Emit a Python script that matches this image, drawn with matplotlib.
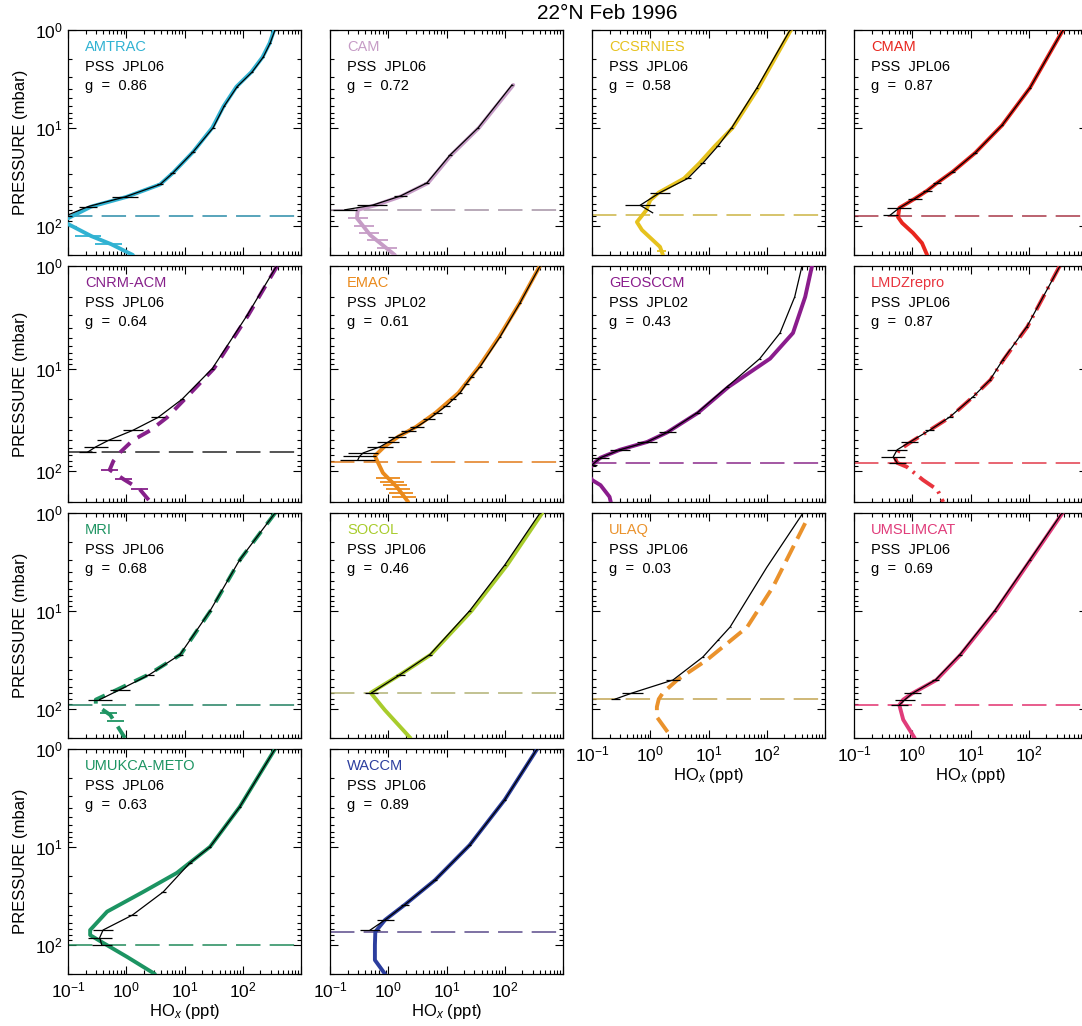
import numpy as np
import matplotlib
matplotlib.use("Agg")
import matplotlib.pyplot as plt
from matplotlib.ticker import LogLocator, NullFormatter, FixedLocator, FixedFormatter

plt.rcParams['font.family'] = ['Liberation Sans', 'DejaVu Sans']
plt.rcParams['mathtext.fontset'] = 'custom'
plt.rcParams['mathtext.rm'] = 'Liberation Sans'
plt.rcParams['mathtext.it'] = 'Liberation Sans:italic'

# ---------------------------------------------------------------- panel metadata
models = ["AMTRAC", "CAM", "CCSRNIES", "CMAM",
          "CNRM-ACM", "EMAC", "GEOSCCM", "LMDZrepro",
          "MRI", "SOCOL", "ULAQ", "UMSLIMCAT",
          "UMUKCA-METO", "WACCM"]
pss_labels = ["PSS  JPL06", "PSS  JPL06", "PSS  JPL06", "PSS  JPL06",
              "PSS  JPL06", "PSS  JPL02", "PSS  JPL02", "PSS  JPL06",
              "PSS  JPL06", "PSS  JPL06", "PSS  JPL06", "PSS  JPL06",
              "PSS  JPL06", "PSS  JPL06"]
g_values = [0.86, 0.72, 0.58, 0.87, 0.64, 0.61, 0.43, 0.87,
            0.68, 0.46, 0.03, 0.69, 0.63, 0.89]
model_colors = ["#30b2d2", "#c69cc6", "#e6c21e", "#e8261e",
                "#86208a", "#ea8a1c", "#8a1c8c", "#e8343e",
                "#1e9462", "#a8cc2c", "#ea922c", "#e03c7a",
                "#1c9462", "#2c3e9e"]
trop_colors = ["#2a8ca8", "#a492a4", "#ccb444", "#a83848",
               "#262626", "#e27a1a", "#8a2a8a", "#e23a4a",
               "#208060", "#b2b274", "#c2a452", "#e2306e",
               "#208a5a", "#5a4a8a"]
model_styles = ["solid", "solid", "solid", "solid",
                (0, (3.6, 2.4)), "solid", "solid", (0, (4.5, 1.6, 0.6, 1.6)),
                (0, (3.6, 2.4)), "solid", (0, (4.5, 2.0)), "solid",
                "solid", "solid"]
trop_p = [80, 69, 78, 80, 65, 81, 83, 83, 92, 69, 80, 92, 101, 74]

# ---------------------------------------------------------------- profiles
# PSS HOx (black): pressure [mbar], HOx [ppt], multiplicative error factor
# model HOx (colour): pressure, HOx; model variability bars: pressure, centre, factor
amtrac_obs_p = [1, 1.36, 1.9, 2.7, 3.8, 6, 10, 17.7, 29, 38, 51, 64, 80]
amtrac_obs_x = [358, 296, 224, 144, 80, 48, 31, 14, 6.3, 3.8, 0.95, 0.22, 0.09]
amtrac_obs_f = [1.04, 1.04, 1.04, 1.04, 1.05, 1.05, 1.06, 1.08, 1.1, 1.12, 1.7, 1.45, 1.3]
amtrac_mod_p = [1, 1.36, 1.9, 2.7, 3.8, 6, 10, 17.7, 29, 38, 51, 64, 90, 128, 155, 200]
amtrac_mod_x = [345, 290, 218, 140, 78, 47, 30, 14, 6.3, 3.8, 1.0, 0.25, 0.08, 0.25,
                0.55, 1.3]
amtrac_err_p = [128, 155]
amtrac_err_x = [0.22, 0.5]
amtrac_err_f = [1.7, 1.7]

cam_obs_p = [3.65, 10, 19, 36.7, 50, 62, 69]
cam_obs_x = [133, 35, 11.5, 4.6, 1.6, 0.53, 0.18]
cam_obs_f = [1.04, 1.05, 1.08, 1.1, 1.3, 1.8, 1.6]
cam_mod_p = [3.65, 10, 19, 36.7, 50, 62, 69, 84, 125, 200]
cam_mod_x = [140, 36, 12, 4.8, 1.7, 0.6, 0.3, 0.29, 0.49, 1.3]
cam_err_p = [84, 100, 118, 140, 170]
cam_err_x = [0.3, 0.38, 0.47, 0.65, 0.95]
cam_err_f = [1.5, 1.5, 1.5, 1.5, 1.5]

ccsr_obs_p = [1, 3.9, 10, 15.3, 23, 33, 46, 62, 74]
ccsr_obs_x = [251, 68, 25, 14.6, 8.0, 4.4, 1.47, 0.67, 1.1]
ccsr_obs_f = [1.03, 1.04, 1.05, 1.08, 1.1, 1.12, 1.5, 1.8, 1.0]
ccsr_mod_p = [1, 3.9, 10, 15.3, 23, 33, 46, 55, 70, 92, 111, 165, 200]
ccsr_mod_x = [260, 72, 26, 13, 7, 3.8, 1.4, 1.0, 0.85, 0.59, 0.72, 1.47, 1.65]
ccsr_err_p = [180]
ccsr_err_x = [1.55]
ccsr_err_f = [1.2]

cmam_obs_p = [1, 3.9, 9.4, 18.1, 28, 36.7, 44, 53, 66, 78]
cmam_obs_x = [387, 105, 35, 12, 5.0, 2.66, 1.8, 1.11, 0.6, 0.42]
cmam_obs_f = [1.03, 1.03, 1.05, 1.08, 1.1, 1.15, 1.2, 1.3, 1.6, 1.35]
cmam_mod_p = [1, 3.9, 9.4, 18.1, 28, 36.7, 44, 53, 66, 82, 94, 119, 151, 200]
cmam_mod_x = [387, 105, 35, 12, 5.0, 2.66, 1.8, 1.11, 0.6, 0.57, 0.67, 1.03, 1.47, 1.8]
cmam_err_p = []
cmam_err_x = []
cmam_err_f = []

cnrm_obs_p = [1, 3, 10, 20, 30, 40, 50, 58, 65]
cnrm_obs_x = [380, 120, 30, 9, 3.5, 1.3, 0.5, 0.3, 0.22]
cnrm_obs_f = [1.03, 1.04, 1.05, 1.08, 1.3, 1.5, 1.6, 1.6, 1.4]
cnrm_mod_p = [1, 3, 10, 20, 30, 40, 50, 65, 80, 97, 120, 150, 200]
cnrm_mod_x = [390, 125, 32, 10, 5, 2.6, 1.3, 0.8, 0.6, 0.52, 0.9, 1.7, 2.6]
cnrm_err_p = [97, 120, 150]
cnrm_err_x = [0.52, 0.9, 1.7]
cnrm_err_f = [1.4, 1.4, 1.4]

emac_obs_p = [1, 2.3, 4.9, 9.6, 12, 14, 17.3, 20, 23, 27, 31, 37, 41, 46,
              52, 58, 66.5, 72, 78]
emac_obs_x = [403, 182, 83, 37.6, 27, 22, 17, 13, 10, 6.9, 5, 3.1, 2.2, 1.41,
              1.0, 0.72, 0.37, 0.32, 0.3]
emac_obs_f = [1.03, 1.04, 1.05, 1.07, 1.08, 1.09, 1.1, 1.12, 1.15, 1.2, 1.25,
              1.3, 1.35, 1.45, 1.55, 1.7, 1.8, 1.9, 2.0]
emac_mod_p = [1, 2.3, 4.9, 9.6, 17.3, 27, 37, 46, 58, 71, 83, 104, 143, 200]
emac_mod_x = [400, 180, 80, 36, 16, 6.5, 3.0, 1.5, 0.85, 0.59, 0.67, 0.81, 1.41, 2.2]
emac_err_p = [116, 127, 138, 148, 163, 178]
emac_err_x = [1.0, 1.15, 1.3, 1.45, 1.65, 1.85]
emac_err_f = [1.6, 1.6, 1.6, 1.6, 1.6, 1.6]

geos_obs_p = [1, 2, 4.5, 8, 15.1, 27, 42, 52, 62, 74, 87]
geos_obs_x = [403, 302, 169, 76, 20.8, 6.4, 1.94, 0.88, 0.3, 0.14, 0.1]
geos_obs_f = [1.02, 1.02, 1.03, 1.04, 1.06, 1.1, 1.4, 1.5, 1.5, 1.4, 1.2]
geos_mod_p = [1, 2, 4.5, 8, 15.1, 27, 42, 52, 62, 74, 87, 105, 122, 137, 178, 200]
geos_mod_x = [598, 457, 282, 114, 22, 6.6, 1.94, 0.88, 0.3, 0.14, 0.1, 0.085, 0.1,
              0.14, 0.2, 0.21]
geos_err_p = []
geos_err_x = []
geos_err_f = []

lmdz_obs_p = [1, 3.9, 8.2, 12.9, 18.9, 29.7, 39.8, 52, 62, 73, 83]
lmdz_obs_x = [343, 93, 36, 21.6, 11, 4.4, 2.0, 0.91, 0.55, 0.47, 0.55]
lmdz_obs_f = [1.03, 1.03, 1.05, 1.06, 1.08, 1.12, 1.2, 1.4, 1.5, 1.6, 1.4]
lmdz_mod_p = [1, 3.9, 8.2, 12.9, 18.9, 29.7, 39.8, 52, 62, 73, 83, 91, 122, 152, 200]
lmdz_mod_x = [340, 95, 37, 22, 11, 4.5, 2.0, 0.95, 0.6, 0.5, 0.55, 0.81, 1.53, 2.7, 3.4]
lmdz_err_p = []
lmdz_err_x = []
lmdz_err_f = []

mri_obs_p = [1, 3, 10, 28, 45, 64, 81]
mri_obs_x = [358, 89, 27.5, 8.4, 2.5, 0.78, 0.35]
mri_obs_f = [1.03, 1.04, 1.05, 1.1, 1.2, 1.5, 1.6]
mri_mod_p = [1, 3, 10, 28, 45, 64, 81, 92, 116, 150, 200]
mri_mod_x = [360, 90, 28, 8.6, 2.4, 0.7, 0.3, 0.3, 0.53, 0.7, 0.95]
mri_err_p = [110, 135]
mri_err_x = [0.5, 0.65]
mri_err_f = [1.4, 1.4]

socol_obs_p = [1, 3.4, 10, 28, 45, 69]
socol_obs_x = [403, 100, 25, 5.2, 1.6, 0.52]
socol_obs_f = [1.03, 1.04, 1.05, 1.1, 1.2, 1.3]
socol_mod_p = [1, 3.4, 10, 28, 45, 69, 104, 200]
socol_mod_x = [440, 110, 27, 5.4, 1.6, 0.5, 0.88, 2.4]
socol_err_p = []
socol_err_x = []
socol_err_f = []

ulaq_obs_p = [1, 3.6, 14.7, 20, 29.7, 51, 69, 80]
ulaq_obs_x = [419, 100, 23.4, 14.6, 8.0, 2.46, 0.5, 0.25]
ulaq_obs_f = [1.0, 1.0, 1.02, 1.05, 1.05, 1.3, 1.5, 1.2]
ulaq_mod_p = [1.27, 5.7, 14.7, 31.8, 51, 69, 80, 96, 122, 200]
ulaq_mod_x = [457, 128, 46, 9.4, 2.9, 1.65, 1.4, 1.3, 1.3, 2.36]
ulaq_err_p = []
ulaq_err_x = []
ulaq_err_f = []

umslim_obs_p = [1, 3, 10, 28, 51, 70, 81, 92]
umslim_obs_x = [372, 105, 26, 6.6, 2.5, 1.0, 0.75, 0.6]
umslim_obs_f = [1.03, 1.04, 1.05, 1.08, 1.15, 1.4, 1.5, 1.4]
umslim_mod_p = [1, 3, 10, 28, 51, 70, 81, 92, 130, 200]
umslim_mod_x = [380, 108, 27, 6.8, 2.6, 1.0, 0.7, 0.6, 0.7, 1.1]
umslim_err_p = []
umslim_err_x = []
umslim_err_f = []

umukca_obs_p = [1, 3.9, 10, 14.6, 29, 50, 71, 85, 101]
umukca_obs_x = [358, 89, 27.5, 12.4, 4.3, 1.27, 0.4, 0.35, 0.38]
umukca_obs_f = [1.03, 1.04, 1.05, 1.08, 1.1, 1.2, 1.5, 1.6, 1.5]
umukca_mod_p = [1, 3.9, 10, 18.5, 29, 46, 71, 80, 96, 134, 200]
umukca_mod_x = [358, 89, 27.5, 7.4, 1.94, 0.47, 0.24, 0.24, 0.4, 1.04, 3.1]
umukca_err_p = []
umukca_err_x = []
umukca_err_f = []

waccm_obs_p = [1, 3.3, 9.6, 22, 39, 56, 71]
waccm_obs_x = [358, 100, 25, 6.3, 1.94, 0.88, 0.49]
waccm_obs_f = [1.03, 1.04, 1.05, 1.08, 1.15, 1.4, 1.5]
waccm_mod_p = [1, 3.3, 9.6, 22, 39, 56, 74, 101, 144, 200]
waccm_mod_x = [360, 100, 25, 6.3, 1.94, 0.88, 0.6, 0.59, 0.59, 0.88]
waccm_err_p = []
waccm_err_x = []
waccm_err_f = []

profiles = [
    (amtrac_obs_p, amtrac_obs_x, amtrac_obs_f, amtrac_mod_p, amtrac_mod_x, amtrac_err_p, amtrac_err_x, amtrac_err_f),
    (cam_obs_p, cam_obs_x, cam_obs_f, cam_mod_p, cam_mod_x, cam_err_p, cam_err_x, cam_err_f),
    (ccsr_obs_p, ccsr_obs_x, ccsr_obs_f, ccsr_mod_p, ccsr_mod_x, ccsr_err_p, ccsr_err_x, ccsr_err_f),
    (cmam_obs_p, cmam_obs_x, cmam_obs_f, cmam_mod_p, cmam_mod_x, cmam_err_p, cmam_err_x, cmam_err_f),
    (cnrm_obs_p, cnrm_obs_x, cnrm_obs_f, cnrm_mod_p, cnrm_mod_x, cnrm_err_p, cnrm_err_x, cnrm_err_f),
    (emac_obs_p, emac_obs_x, emac_obs_f, emac_mod_p, emac_mod_x, emac_err_p, emac_err_x, emac_err_f),
    (geos_obs_p, geos_obs_x, geos_obs_f, geos_mod_p, geos_mod_x, geos_err_p, geos_err_x, geos_err_f),
    (lmdz_obs_p, lmdz_obs_x, lmdz_obs_f, lmdz_mod_p, lmdz_mod_x, lmdz_err_p, lmdz_err_x, lmdz_err_f),
    (mri_obs_p, mri_obs_x, mri_obs_f, mri_mod_p, mri_mod_x, mri_err_p, mri_err_x, mri_err_f),
    (socol_obs_p, socol_obs_x, socol_obs_f, socol_mod_p, socol_mod_x, socol_err_p, socol_err_x, socol_err_f),
    (ulaq_obs_p, ulaq_obs_x, ulaq_obs_f, ulaq_mod_p, ulaq_mod_x, ulaq_err_p, ulaq_err_x, ulaq_err_f),
    (umslim_obs_p, umslim_obs_x, umslim_obs_f, umslim_mod_p, umslim_mod_x, umslim_err_p, umslim_err_x, umslim_err_f),
    (umukca_obs_p, umukca_obs_x, umukca_obs_f, umukca_mod_p, umukca_mod_x, umukca_err_p, umukca_err_x, umukca_err_f),
    (waccm_obs_p, waccm_obs_x, waccm_obs_f, waccm_mod_p, waccm_mod_x, waccm_err_p, waccm_err_x, waccm_err_f),
]

x_ticks = [0.1, 1, 10, 100, 1000]
x_tick_labels = ["$10^{-1}$", "$10^{0}$", "$10^{1}$", "$10^{2}$", ""]
y_ticks = [1, 10, 100]
y_tick_labels = ["$10^{0}$", "$10^{1}$", "$10^{2}$"]

# ---------------------------------------------------------------- layout (pixels)
FIG_W, FIG_H = 1082, 1026
col_left = [68, 330, 592, 854]
panel_w = 233
row_top = [30, 266, 513, 749]
row_h = [225, 236, 225, 225]

fig = plt.figure(figsize=(FIG_W / 100, FIG_H / 100), dpi=100)

for i, name in enumerate(models):
    r, c = divmod(i, 4)
    obs_p, obs_x, obs_f, mod_p, mod_x, err_p, err_x, err_f = profiles[i]
    ax = fig.add_axes([col_left[c] / FIG_W,
                       1 - (row_top[r] + row_h[r]) / FIG_H,
                       panel_w / FIG_W,
                       row_h[r] / FIG_H])
    ax.set_xscale("log")
    ax.set_yscale("log")
    ax.set_xlim(0.1, 1000)
    ax.set_ylim(200, 1)

    col = model_colors[i]
    # tropopause
    ax.axhline(trop_p[i], color=trop_colors[i], lw=1.1, ls=(0, (16, 6)), zorder=2)
    # model profile and its variability
    ax.plot(mod_x, mod_p, color=col, lw=2.8, ls=model_styles[i],
            solid_capstyle="round", solid_joinstyle="round", zorder=3)
    if len(err_p):
        ex = np.asarray(err_x, float)
        ef = np.asarray(err_f, float)
        ax.hlines(err_p, ex / ef, ex * ef, color=col, lw=1.3, zorder=3)
    # PSS profile with error bars
    ox = np.asarray(obs_x, float)
    of = np.asarray(obs_f, float)
    ax.plot(ox, obs_p, color="black", lw=0.9, zorder=4)
    ax.hlines(obs_p, ox / of, ox * of, color="black", lw=0.9, zorder=4)

    # labels inside the panel
    ax.text(17 / panel_w, 1 - 17 / row_h[r], name, color=col, fontsize=10.5,
            transform=ax.transAxes, va="center", ha="left")
    ax.text(17 / panel_w, 1 - 37 / row_h[r], pss_labels[i], color="black",
            fontsize=10.5, transform=ax.transAxes, va="center", ha="left")
    ax.text(17 / panel_w, 1 - 56 / row_h[r], "g  =  %.2f" % g_values[i],
            color="black", fontsize=10.5, transform=ax.transAxes,
            va="center", ha="left")

    # ticks
    ax.xaxis.set_major_locator(FixedLocator(x_ticks))
    ax.yaxis.set_major_locator(FixedLocator(y_ticks))
    ax.xaxis.set_minor_locator(LogLocator(base=10, subs=np.arange(2, 10), numticks=20))
    ax.yaxis.set_minor_locator(LogLocator(base=10, subs=np.arange(2, 10), numticks=20))
    ax.xaxis.set_minor_formatter(NullFormatter())
    ax.yaxis.set_minor_formatter(NullFormatter())
    ax.xaxis.set_major_formatter(FixedFormatter(x_tick_labels))
    ax.yaxis.set_major_formatter(FixedFormatter(y_tick_labels))
    ax.tick_params(which="both", direction="in", top=True, right=True,
                   width=0.8, labelsize=12.5)
    ax.tick_params(which="major", length=6)
    ax.tick_params(which="minor", length=3)
    ax.tick_params(axis="x", pad=5)
    ax.tick_params(axis="y", pad=4)
    for s in ax.spines.values():
        s.set_linewidth(0.9)

    show_x = (r == 3) or (r == 2 and c >= 2)
    show_y = (c == 0)
    ax.tick_params(labelbottom=show_x, labelleft=show_y)
    if show_x:
        ax.set_xlabel("HO$_x$ (ppt)", fontsize=12)
        ax.xaxis.set_label_coords(0.5, -28 / row_h[r])
    if show_y:
        ax.set_ylabel("PRESSURE (mbar)", fontsize=12)
        ax.yaxis.set_label_coords(-40 / panel_w, 0.5)

fig.text(607 / FIG_W, 1 - 14 / FIG_H, "22°N Feb 1996", ha="center", va="center",
         fontsize=15)

fig.savefig("out.png", dpi=100)
